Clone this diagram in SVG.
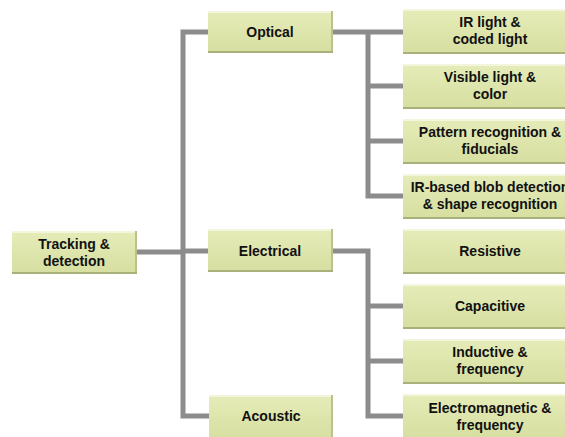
<svg xmlns="http://www.w3.org/2000/svg" width="565" height="437" viewBox="0 0 565 437">
<defs>
<linearGradient id="g" x1="0" y1="0" x2="0" y2="1">
<stop offset="0" stop-color="#e6ecb8"/>
<stop offset="1" stop-color="#d6dea0"/>
</linearGradient>
</defs>
<style>
.c{stroke:#8c8c8c;stroke-width:5;fill:none;stroke-linecap:square}
.b{fill:url(#g)}
.hl{fill:#f3f6dc}
.sh{fill:#a9b07a}
.sr{fill:#bcc28c}
.t{font-family:"Liberation Sans",Arial,sans-serif;font-weight:bold;font-size:14px;fill:#111;text-anchor:middle}
</style>
<rect width="565" height="437" fill="#ffffff"/>
<g id="connectors">
<path class="c" d="M137 252H183M183 32V416M183 32H208M183 251H208M183 416H209"/>
<path class="c" d="M333 32H368M368 32V196M368 86H403M368 141H403M368 196H403M368 32H403"/>
<path class="c" d="M333 251H368M368 251V416M368 306H403M368 361H403M368 416H403"/>
</g>
<g id="tracking">
<rect class="b" x="12" y="231" width="125" height="43"/>
<rect class="hl" x="12" y="231" width="125" height="2"/>
<rect class="sr" x="135" y="231" width="2" height="43"/>
<rect class="sh" x="12" y="272" width="125" height="2"/>
<text class="t" x="74" y="249">Tracking &amp;</text>
<text class="t" x="74" y="266">detection</text>
</g>
<g id="optical">
<rect class="b" x="208" y="11" width="125" height="42"/>
<rect class="hl" x="208" y="11" width="125" height="2"/>
<rect class="sr" x="331" y="11" width="2" height="42"/>
<rect class="sh" x="208" y="51" width="125" height="2"/>
<text class="t" x="270" y="37">Optical</text>
</g>
<g id="electrical">
<rect class="b" x="208" y="229" width="125" height="43"/>
<rect class="hl" x="208" y="229" width="125" height="2"/>
<rect class="sr" x="331" y="229" width="2" height="43"/>
<rect class="sh" x="208" y="270" width="125" height="2"/>
<text class="t" x="270" y="256">Electrical</text>
</g>
<g id="acoustic">
<rect class="b" x="209" y="395" width="124" height="45"/>
<rect class="hl" x="209" y="395" width="124" height="2"/>
<rect class="sr" x="331" y="395" width="2" height="45"/>
<text class="t" x="271" y="421">Acoustic</text>
</g>
<g id="ir-light">
<rect class="b" x="403" y="9" width="175" height="45"/>
<rect class="hl" x="403" y="9" width="175" height="2"/>
<rect class="sh" x="403" y="52" width="175" height="2"/>
<text class="t" x="490" y="27">IR light &amp;</text>
<text class="t" x="490" y="44">coded light</text>
</g>
<g id="visible-light">
<rect class="b" x="403" y="64" width="175" height="45"/>
<rect class="hl" x="403" y="64" width="175" height="2"/>
<rect class="sh" x="403" y="107" width="175" height="2"/>
<text class="t" x="490" y="82">Visible light &amp;</text>
<text class="t" x="490" y="99">color</text>
</g>
<g id="pattern">
<rect class="b" x="403" y="119" width="175" height="45"/>
<rect class="hl" x="403" y="119" width="175" height="2"/>
<rect class="sh" x="403" y="162" width="175" height="2"/>
<text class="t" x="490" y="137">Pattern recognition &amp;</text>
<text class="t" x="490" y="154">fiducials</text>
</g>
<g id="ir-blob">
<rect class="b" x="403" y="174" width="175" height="45"/>
<rect class="hl" x="403" y="174" width="175" height="2"/>
<rect class="sh" x="403" y="217" width="175" height="2"/>
<text class="t" x="490" y="192">IR-based blob detection</text>
<text class="t" x="490" y="209">&amp; shape recognition</text>
</g>
<g id="resistive">
<rect class="b" x="403" y="229" width="175" height="45"/>
<rect class="hl" x="403" y="229" width="175" height="2"/>
<rect class="sh" x="403" y="272" width="175" height="2"/>
<text class="t" x="490" y="256">Resistive</text>
</g>
<g id="capacitive">
<rect class="b" x="403" y="284" width="175" height="45"/>
<rect class="hl" x="403" y="284" width="175" height="2"/>
<rect class="sh" x="403" y="327" width="175" height="2"/>
<text class="t" x="490" y="311">Capacitive</text>
</g>
<g id="inductive">
<rect class="b" x="403" y="339" width="175" height="45"/>
<rect class="hl" x="403" y="339" width="175" height="2"/>
<rect class="sh" x="403" y="382" width="175" height="2"/>
<text class="t" x="490" y="357">Inductive &amp;</text>
<text class="t" x="490" y="374">frequency</text>
</g>
<g id="electromagnetic">
<rect class="b" x="403" y="394" width="175" height="45"/>
<rect class="hl" x="403" y="394" width="175" height="2"/>
<text class="t" x="490" y="413">Electromagnetic &amp;</text>
<text class="t" x="490" y="430">frequency</text>
</g>
</svg>
